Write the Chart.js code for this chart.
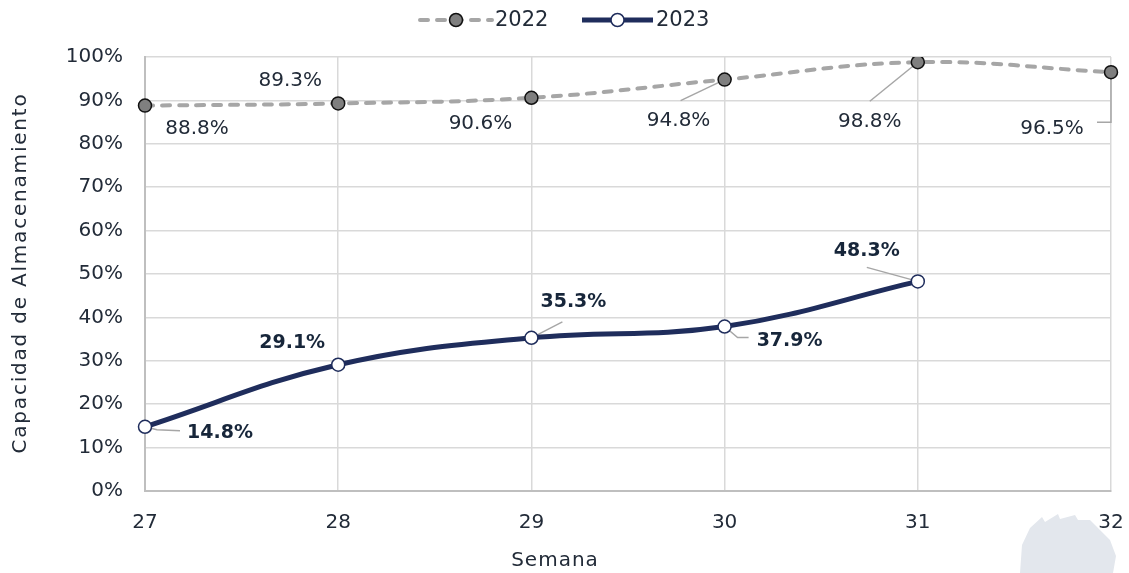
<!DOCTYPE html>
<html>
<head>
<meta charset="utf-8">
<script src="https://cdn.jsdelivr.net/npm/chart.js@4.4.0/dist/chart.umd.min.js"></script>
<style>
  body { margin: 0; background: #fff; }
  #wrap { width: 1129px; height: 573px; }
</style>
</head>
<body>
<div id="wrap"><canvas id="storageChart" width="1129" height="573"></canvas></div>
<script>
// Capacidad de almacenamiento por semana
const weeks = ["27", "28", "29", "30", "31", "32"];
const values2022 = [88.8, 89.3, 90.6, 94.8, 98.8, 96.5];
const values2023 = [14.8, 29.1, 35.3, 37.9, 48.3, null];
const yTicks = [0, 10, 20, 30, 40, 50, 60, 70, 80, 90, 100];
const xTitle = "Semana";
const yTitle = "Capacidad de Almacenamiento";

const textColor = "#222b38";
const fontFamily = "'DejaVu Sans', sans-serif";

// label placement relative to each point: text centre + optional leader polyline
const labelPos2022 = [
  { dx: 52, dy: 23 },
  { dx: -48, dy: -23 },
  { dx: -51, dy: 26 },
  { dx: -46, dy: 41, leader: [[0, 0], [-44, 21]] },
  { dx: -48, dy: 60, leader: [[0, 0], [-48, 39]] },
  { dx: -59, dy: 57, leader: [[0, 0], [0, 50], [-14, 50]] }
];
const labelPos2023 = [
  { dx: 75, dy: 6, leader: [[0, 0], [12, 3], [35, 4]] },
  { dx: -46, dy: -22 },
  { dx: 42, dy: -36, leader: [[0, 0], [31, -16]] },
  { dx: 65, dy: 15, leader: [[0, 0], [13, 11], [24, 11]] },
  { dx: -51, dy: -30, leader: [[0, 0], [-51, -14]] }
];

const dataLabels = {
  id: "dataLabels",
  beforeDatasetsDraw(chart) {
    const ctx = chart.ctx;
    ctx.save();
    ctx.strokeStyle = "#a6a6a6";
    ctx.lineWidth = 1.5;
    [labelPos2022, labelPos2023].forEach((list, di) => {
      const meta = chart.getDatasetMeta(di);
      list.forEach((p, i) => {
        const pt = meta.data[i];
        if (!pt || !p.leader) return;
        ctx.beginPath();
        p.leader.forEach(([lx, ly], k) => {
          if (k === 0) ctx.moveTo(pt.x + lx, pt.y + ly);
          else ctx.lineTo(pt.x + lx, pt.y + ly);
        });
        ctx.stroke();
      });
    });
    ctx.restore();
  },
  afterDatasetsDraw(chart) {
    const ctx = chart.ctx;
    ctx.save();
    ctx.textAlign = "center";
    ctx.textBaseline = "middle";
    [labelPos2022, labelPos2023].forEach((list, di) => {
      const meta = chart.getDatasetMeta(di);
      const vals = chart.data.datasets[di].data;
      ctx.font = di === 0 ? "20px " + fontFamily : "bold 19px " + fontFamily;
      ctx.fillStyle = di === 0 ? textColor : "#17263a";
      list.forEach((p, i) => {
        const pt = meta.data[i];
        if (!pt || vals[i] == null) return;
        ctx.fillText(vals[i].toFixed(1) + "%", pt.x + p.dx, pt.y + p.dy);
      });
    });
    ctx.restore();
  }
};

// legend and axis titles drawn by hand
const lineLegend = {
  id: "lineLegend",
  afterDraw(chart) {
    const ctx = chart.ctx;
    const y = 20;
    const items = [
      { x0: 420, x1: 492, label: "2022", ds: chart.data.datasets[0] },
      { x0: 582, x1: 653, label: "2023", ds: chart.data.datasets[1] }
    ];
    ctx.save();
    items.forEach(it => {
      ctx.beginPath();
      ctx.setLineDash(it.ds.borderDash || []);
      ctx.lineCap = it.ds.borderCapStyle || "butt";
      ctx.strokeStyle = it.ds.borderColor;
      ctx.lineWidth = it.ds.borderWidth;
      ctx.moveTo(it.x0, y);
      ctx.lineTo(it.x1, y);
      ctx.stroke();
      ctx.setLineDash([]);
      ctx.beginPath();
      ctx.arc((it.x0 + it.x1) / 2, y, it.ds.pointRadius, 0, Math.PI * 2);
      ctx.fillStyle = it.ds.pointBackgroundColor;
      ctx.fill();
      ctx.lineWidth = it.ds.pointBorderWidth;
      ctx.strokeStyle = it.ds.pointBorderColor;
      ctx.stroke();
      ctx.fillStyle = textColor;
      ctx.font = "21px " + fontFamily;
      ctx.textAlign = "left";
      ctx.textBaseline = "middle";
      ctx.fillText(it.label, it.x1 + 3, y + 1);
    });

    ctx.fillStyle = textColor;
    ctx.textAlign = "center";
    ctx.textBaseline = "middle";
    ctx.font = "20px " + fontFamily;
    ctx.letterSpacing = "1px";
    ctx.fillText(xTitle, 555, 561);
    ctx.translate(21, 273);
    ctx.rotate(-Math.PI / 2);
    ctx.letterSpacing = "1.8px";
    ctx.fillText(yTitle, 0, 0);
    ctx.restore();
  }
};

// faint decoration in the bottom right corner
const cornerMark = {
  id: "cornerMark",
  beforeDraw(chart) {
    const ctx = chart.ctx;
    ctx.save();
    ctx.fillStyle = "#e3e7ed";
    ctx.beginPath();
    ctx.moveTo(1020, 573);
    ctx.lineTo(1022, 545);
    ctx.lineTo(1030, 528);
    ctx.lineTo(1042, 517);
    ctx.lineTo(1045, 522);
    ctx.lineTo(1058, 514);
    ctx.lineTo(1060, 519);
    ctx.lineTo(1075, 515);
    ctx.lineTo(1078, 520);
    ctx.lineTo(1090, 520);
    ctx.lineTo(1098, 528);
    ctx.lineTo(1110, 540);
    ctx.lineTo(1116, 556);
    ctx.lineTo(1113, 573);
    ctx.closePath();
    ctx.fill();
    ctx.restore();
  }
};

const ctx = document.getElementById("storageChart").getContext("2d");
new Chart(ctx, {
  type: "line",
  data: {
    labels: weeks,
    datasets: [{
      label: "2022",
      data: values2022,
      borderColor: "#a6a6a6",
      borderWidth: 4,
      borderDash: [8, 9],
      borderCapStyle: "round",
      tension: 0.4,
      pointRadius: 6.5,
      pointBackgroundColor: "#7f7f7f",
      pointBorderColor: "#111111",
      pointBorderWidth: 1.5
    }, {
      label: "2023",
      data: values2023,
      borderColor: "#1f2d5c",
      borderWidth: 5,
      tension: 0.4,
      pointRadius: 6.5,
      pointBackgroundColor: "#ffffff",
      pointBorderColor: "#1f2d5c",
      pointBorderWidth: 1.5
    }]
  },
  options: {
    responsive: false,
    animation: false,
    layout: { padding: { top: 57, right: 18, left: 0, bottom: 0 } },
    plugins: {
      legend: { display: false },
      tooltip: { enabled: false }
    },
    scales: {
      x: {
        offset: false,
        grid: { color: "#d9d9d9", lineWidth: 1.5, drawTicks: false },
        border: { color: "#bfbfbf", width: 2 },
        ticks: {
          color: textColor,
          font: { family: fontFamily, size: 20 },
          padding: 20,
          maxRotation: 0
        },
        afterFit(scale) {
          scale.height = 82;
          scale.paddingLeft = 0;
          scale.paddingRight = 0;
        }
      },
      y: {
        min: 0,
        max: 100,
        afterBuildTicks(scale) { scale.ticks = yTicks.map(v => ({ value: v })); },
        grid: { color: "#d9d9d9", lineWidth: 1.5, drawTicks: false },
        border: { color: "#bfbfbf", width: 2 },
        ticks: {
          color: textColor,
          font: { family: fontFamily, size: 20 },
          padding: 22,
          callback: function(value) { return value + "%"; }
        },
        afterFit(scale) {
          scale.width = 145;
          scale.paddingTop = 0;
          scale.paddingBottom = 0;
        }
      }
    }
  },
  plugins: [cornerMark, dataLabels, lineLegend]
});
</script>
</body>
</html>
